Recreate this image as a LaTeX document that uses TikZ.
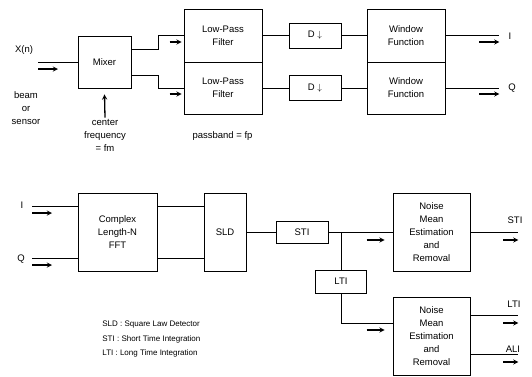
\documentclass[tikz,border=0pt]{standalone}
\usepackage{fontspec}
\setmainfont{Liberation Sans}
\usetikzlibrary{arrows}

\begin{document}
\begin{tikzpicture}[
    x=1pt, y=-1pt,
    >=stealth,
    font=\fontsize{9.5}{13}\selectfont,
    line width=0.8pt,
    block/.style={
        draw,
        align=center,
        inner sep=0pt
    },
    flowarr/.style={
        ->,
        line width=1.3pt
    },
    txt/.style={
        align=center,
        inner sep=1pt
    },
    legend/.style={
        font=\fontsize{8}{10}\selectfont,
        anchor=west,
        inner sep=0pt
    }
]

\useasboundingbox (0,0) rectangle (532,376);

% front end
\node[block, minimum width=53pt, minimum height=52pt] (mixer) at (104.5,62) {Mixer};

\node[block, minimum width=78pt, minimum height=53pt] (lpfI) at (223,35.5) {Low-Pass\\Filter};
\node[block, minimum width=78pt, minimum height=52pt] (lpfQ) at (223,88) {Low-Pass\\Filter};

\node[block, minimum width=52pt, minimum height=25pt] (decI) at (315,35.5) {D $\downarrow$};
\node[block, minimum width=52pt, minimum height=25pt] (decQ) at (315,88) {D $\downarrow$};

\node[block, minimum width=78pt, minimum height=53pt] (winI) at (406,35.5) {Window\\Function};
\node[block, minimum width=78pt, minimum height=52pt] (winQ) at (406,88) {Window\\Function};

\coordinate (xin) at (38,62);
\node[txt] (xlab) at (24,50) {X(n)};
\node[txt] (src) at (26,108) {beam\\or\\sensor};
\node[txt] (fc) at (105,135) {center\\frequency\\= fm};
\node[txt] (pb) at (222.5,136) {passband = fp};

\draw (xin) -- (mixer.west);
\draw[flowarr] ([yshift=-7pt]xin) -- ++(20,0);
\draw[flowarr] (fc.north) -- ([yshift=-6pt]mixer.south);

\draw ([yshift=13pt]mixer.east) -- ++(27,0) |- (lpfI.west);
\draw ([yshift=-13pt]mixer.east) -- ++(27,0) |- (lpfQ.west);
\draw[flowarr] ([xshift=-14pt,yshift=-6.5pt]lpfI.west) -- ++(12,0);
\draw[flowarr] ([xshift=-14pt,yshift=-6pt]lpfQ.west) -- ++(12,0);

\draw (lpfI.east) -- (decI.west);
\draw (lpfQ.east) -- (decQ.west);
\draw (decI.east) -- (winI.west);
\draw (decQ.east) -- (winQ.west);

\draw (winI.east) -- ++(54,0) coordinate (outI);
\draw (winQ.east) -- ++(54,0) coordinate (outQ);
\draw[flowarr] ([xshift=-20pt,yshift=-6.5pt]outI) -- ++(20,0);
\draw[flowarr] ([xshift=-20pt,yshift=-6pt]outQ) -- ++(20,0);
\node[txt] (lI) at (510,36) {I};
\node[txt] (lQ) at (512,88) {Q};

% detection and noise removal
\node[block, minimum width=79pt, minimum height=78pt] (fft) at (117.5,232) {Complex\\Length-N\\FFT};
\node[block, minimum width=42pt, minimum height=78pt] (sld) at (225,232) {SLD};
\node[block, minimum width=52pt, minimum height=22pt] (sti) at (302,232) {STI};
\node[block, minimum width=51pt, minimum height=23pt] (lti) at (341,281.5) {LTI};
\node[block, minimum width=77pt, minimum height=78pt] (nmerS) at (431.5,232)
    {Noise\\Mean\\Estimation\\and\\Removal};
\node[block, minimum width=77pt, minimum height=78pt] (nmerL) at (431.5,336)
    {Noise\\Mean\\Estimation\\and\\Removal};

\coordinate (iin) at (32,206);
\coordinate (qin) at (32,258);
\node[txt] (lI2) at (22,205) {I};
\node[txt] (lQ2) at (21,259) {Q};

\draw (iin) -- ([yshift=26pt]fft.west);
\draw (qin) -- ([yshift=-26pt]fft.west);
\draw[flowarr] ([yshift=-7pt]iin) -- ++(20,0);
\draw[flowarr] ([yshift=-7pt]qin) -- ++(20,0);

\draw ([yshift=26pt]fft.east) -- ([yshift=26pt]sld.west);
\draw ([yshift=-26pt]fft.east) -- ([yshift=-26pt]sld.west);
\draw (sld.east) -- (sti.west);
\draw (sti.east) -- (nmerS.west);
\coordinate (br) at (341,232);
\draw (br) -- (lti.north);
\draw (lti.south) |- ([yshift=13pt]nmerL.west);
\draw[flowarr] ([xshift=-26pt,yshift=-8pt]nmerS.west) -- ++(18,0);
\draw[flowarr] ([xshift=-26pt,yshift=6pt]nmerL.west) -- ++(18,0);

\draw (nmerS.east) -- ++(48,0) coordinate (outS);
\draw ([yshift=21pt]nmerL.east) -- ++(48,0) coordinate (outL);
\draw ([yshift=-18pt]nmerL.east) -- ++(48,0) coordinate (outA);
\draw[flowarr] ([xshift=-15pt,yshift=-8pt]outS) -- ++(15,0);
\draw[flowarr] ([xshift=-15pt,yshift=-8pt]outL) -- ++(15,0);
\draw[flowarr] ([xshift=-15pt,yshift=-8pt]outA) -- ++(15,0);
\node[txt] (lS) at (515,220) {STI};
\node[txt] (lL) at (514,304) {LTI};
\node[txt] (lA) at (513,349) {ALI};

\node[legend] (lg1) at (102,325) {SLD : Square Law Detector};
\node[legend] (lg2) at (102,339) {STI : Short Time Integration};
\node[legend] (lg3) at (102,353) {LTI : Long Time Integration};

\end{tikzpicture}
\end{document}
